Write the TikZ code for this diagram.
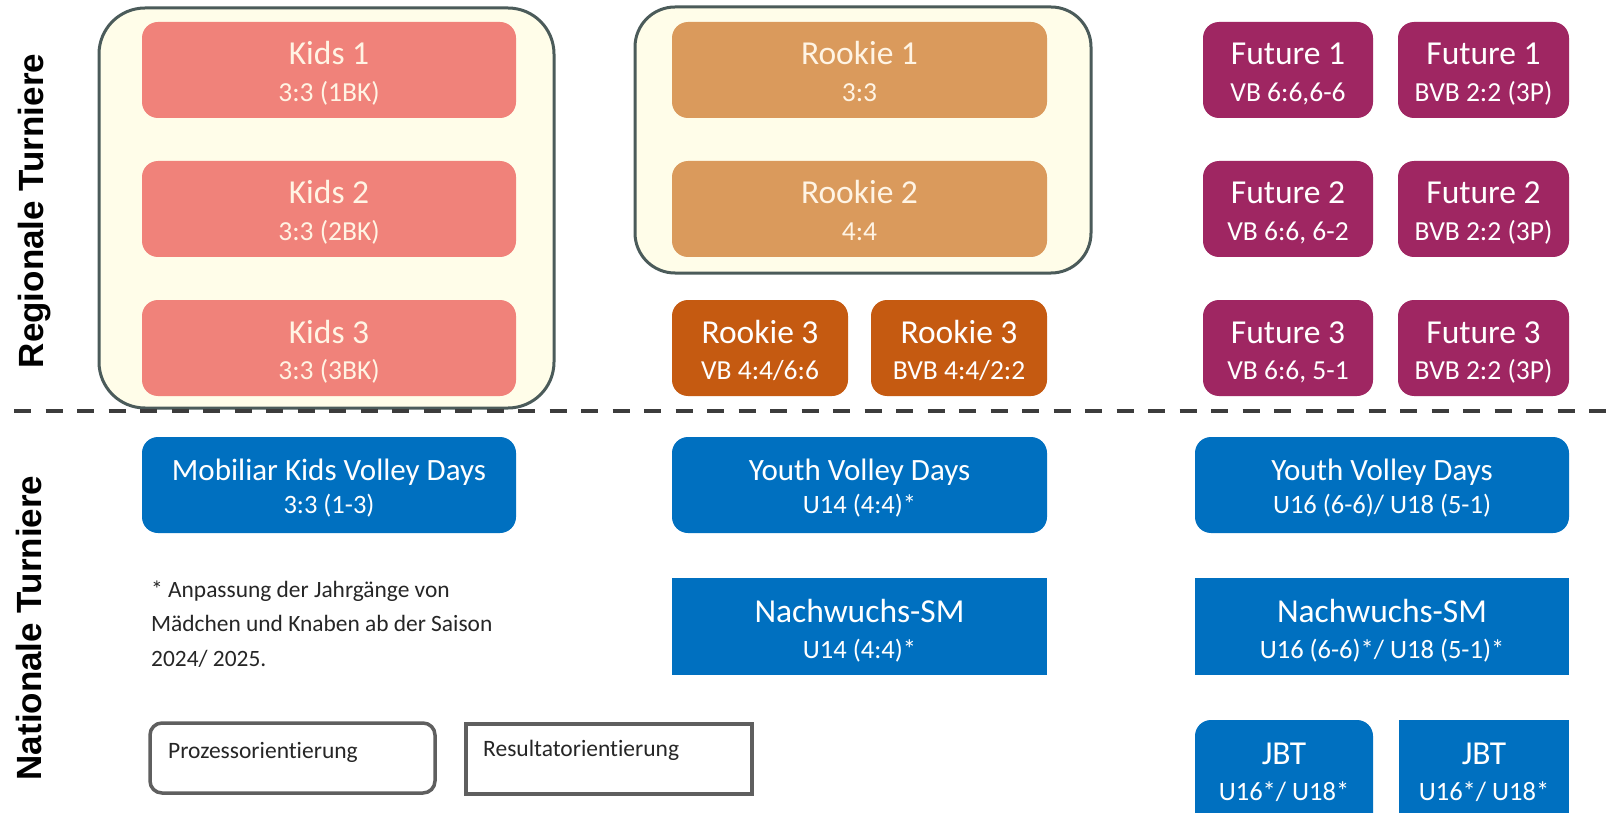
\documentclass[tikz,border=0pt]{standalone}
\usepackage{fontspec}
\setmainfont{Carlito}[Ligatures=NoCommon]
\newfontfamily\labfont{Liberation Sans}
\definecolor{kidsc}{HTML}{F0827A}
\definecolor{rookA}{HTML}{DA9A5C}
\definecolor{rookB}{HTML}{C55A11}
\definecolor{futc}{HTML}{9F2662}
\definecolor{bluec}{HTML}{0070C0}
\definecolor{creamc}{HTML}{FFF4E4}
\definecolor{contfill}{HTML}{FFFDE9}
\definecolor{contdraw}{HTML}{4B5B5A}
\definecolor{dashc}{HTML}{3C3C3C}
\definecolor{legc}{HTML}{5F5F5F}
\definecolor{txtc}{HTML}{262626}
\tikzset{
 bx/.style={inner sep=0pt, outer sep=0pt, anchor=north west, draw=none},
 kidsbox/.style={bx, fill=kidsc, rounded corners=16pt},
 rookAbox/.style={bx, fill=rookA, rounded corners=16pt},
 rookBbox/.style={bx, fill=rookB, rounded corners=16pt},
 futbox/.style={bx, fill=futc, rounded corners=16pt},
 bluebox/.style={bx, fill=bluec, rounded corners=16pt},
 bluesq/.style={bx, fill=bluec},
 container/.style={inner sep=0pt, outer sep=0pt, anchor=north west, fill=contfill, draw=contdraw, line width=3pt},
 txt/.style={inner sep=0pt, anchor=base},
 cream/.style={txt, text=creamc, font=\fontsize{33.5}{40}\selectfont},
 cream sub/.style={txt, text=creamc, font=\fontsize{27.5}{33}\selectfont, yshift=-36.5pt},
 wht/.style={txt, text=white, font=\fontsize{33.5}{40}\selectfont},
 wht sub/.style={txt, text=white, font=\fontsize{27.5}{33}\selectfont, yshift=-36.5pt},
 blu/.style={txt, text=white, font=\fontsize{31}{37}\selectfont},
 blu sub/.style={txt, text=white, font=\fontsize{26.5}{32}\selectfont, yshift=-33pt},
 bln/.style={txt, text=white, font=\fontsize{33.5}{40}\selectfont, yshift=-1pt},
 bln sub/.style={txt, text=white, font=\fontsize{26.5}{32}\selectfont, yshift=-37pt},
 sidelab/.style={inner sep=0pt, rotate=90, anchor=base, text=black, font=\labfont\bfseries\fontsize{35}{40}\selectfont},
 foot/.style={inner sep=0pt, anchor=base west, text=txtc, font=\fontsize{23.4}{28}\selectfont},
 legbox/.style={inner sep=0pt, outer sep=0pt, anchor=north west, draw=legc, line width=3.5pt, fill=white},
 dashline/.style={draw=dashc, line width=4.5pt, dash pattern=on 17pt off 14.5pt},
}
% name, box style, x, y, w, h, text style, title, subtitle
\newcommand\cbox[9]{%
 \node[#2, minimum width=#5pt, minimum height=#6pt] (#1) at (#3,#4) {};
 \node[#7] (#1-t) at (#3+#5/2, #4+43) {#8};
 \node[#7 sub] (#1-s) at (#3+#5/2, #4+43) {#9};
}
\begin{document}
\begin{tikzpicture}[x=1pt,y=-1pt]
\useasboundingbox (0,0) rectangle (1612,813);
\clip (0,0) rectangle (1612,813);
\fill[white] (0,0) rectangle (1612,813);

% containers
\node[container, rounded corners=46pt, minimum width=455pt, minimum height=400pt] (kidscont) at (99,8) {};
\node[container, rounded corners=40pt, minimum width=456pt, minimum height=266pt] (rookcont) at (635,7) {};

% dashed separator
\coordinate (dl1) at (14,411);
\coordinate (dl2) at (1612,411);
\draw[dashline] (dl1) -- (dl2);

% Kids
\cbox{k1}{kidsbox}{142}{22}{374}{96}{cream}{Kids 1}{3:3 (1BK)}
\cbox{k2}{kidsbox}{142}{161}{374}{96}{cream}{Kids 2}{3:3 (2BK)}
\cbox{k3}{kidsbox}{142}{300}{374}{96}{cream}{Kids 3}{3:3 (3BK)}

% Rookie
\cbox{r1}{rookAbox}{672}{22}{375}{96}{cream}{Rookie 1}{3:3}
\cbox{r2}{rookAbox}{672}{161}{375}{96}{cream}{Rookie 2}{4:4}
\cbox{r3a}{rookBbox}{672}{300}{176}{96}{wht}{Rookie 3}{VB 4:4/6:6}
\cbox{r3b}{rookBbox}{871}{300}{176}{96}{wht}{Rookie 3}{BVB 4:4/2:2}

% Future
\cbox{f1a}{futbox}{1203}{22}{170}{96}{wht}{Future 1}{VB 6:6,6-6}
\cbox{f1b}{futbox}{1398}{22}{171}{96}{wht}{Future 1}{BVB 2:2 (3P)}
\cbox{f2a}{futbox}{1203}{161}{170}{96}{wht}{Future 2}{VB 6:6, 6-2}
\cbox{f2b}{futbox}{1398}{161}{171}{96}{wht}{Future 2}{BVB 2:2 (3P)}
\cbox{f3a}{futbox}{1203}{300}{170}{96}{wht}{Future 3}{VB 6:6, 5-1}
\cbox{f3b}{futbox}{1398}{300}{171}{96}{wht}{Future 3}{BVB 2:2 (3P)}

% National
\cbox{mkvd}{bluebox}{142}{437}{374}{96}{blu}{Mobiliar Kids Volley Days}{3:3 (1-3)}
\cbox{yvd1}{bluebox}{672}{437}{375}{96}{blu}{Youth Volley Days}{U14 (4:4)*}
\cbox{yvd2}{bluebox}{1195}{437}{374}{96}{blu}{Youth Volley Days}{U16 (6-6)/ U18 (5-1)}
\cbox{nsm1}{bluesq}{672}{578}{375}{97}{bln}{Nachwuchs-SM}{U14 (4:4)*}
\cbox{nsm2}{bluesq}{1195}{578}{374}{97}{bln}{Nachwuchs-SM}{U16 (6-6)*/ U18 (5-1)*}
\cbox{jbt1}{bluebox}{1195}{720}{178}{125}{bln}{JBT}{U16*/ U18*}
\cbox{jbt2}{bluesq}{1399}{720}{170}{125}{bln}{JBT}{U16*/ U18*}

% side labels
\node[sidelab] (reg) at (43,211) {Regionale Turniere};
\node[sidelab] (nat) at (41,628) {Nationale Turniere};

% footnote
\node[foot] (fn1) at (151,597) {* Anpassung der Jahrgänge von};
\node[foot] (fn2) at (151,631.5) {Mädchen und Knaben ab der Saison};
\node[foot] (fn3) at (151,666) {2024/ 2025.};

% legend
\node[legbox, rounded corners=12pt, minimum width=285pt, minimum height=70pt] (leg1) at (150,723) {};
\node[foot, font=\fontsize{23.5}{28}\selectfont] (leg1t) at (168,758) {Prozessorientierung};
\node[legbox, minimum width=286pt, minimum height=70pt] (leg2) at (466,724) {};
\node[foot, font=\fontsize{23.5}{28}\selectfont] (leg2t) at (483,756) {Resultatorientierung};
\end{tikzpicture}
\end{document}
